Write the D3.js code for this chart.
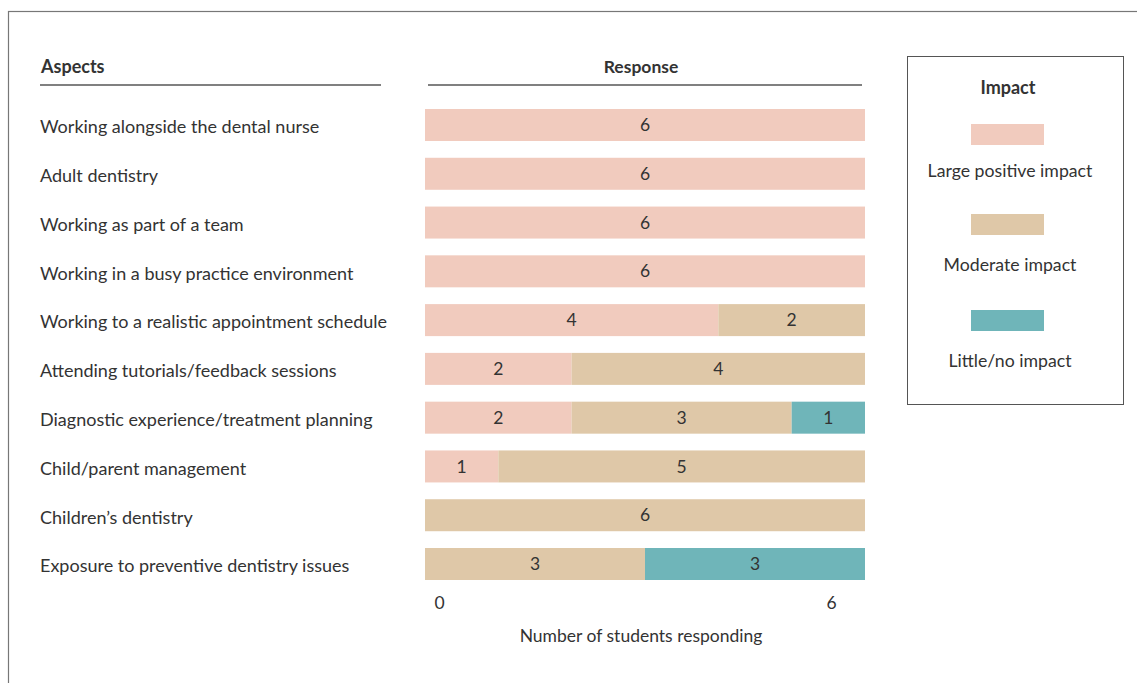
<!DOCTYPE html>
<html><head><meta charset="utf-8">
<script src="https://cdn.jsdelivr.net/npm/d3@7"></script>
<style>body{margin:0;background:#fff}svg{display:block}text{font-family:Lato,"Open Sans",sans-serif;fill:#333}</style>
</head><body><svg id="c" width="1137" height="683"></svg>
<script>
const aspects = ["Working alongside the dental nurse","Adult dentistry","Working as part of a team","Working in a busy practice environment","Working to a realistic appointment schedule","Attending tutorials/feedback sessions","Diagnostic experience/treatment planning","Child/parent management","Children\u2019s dentistry","Exposure to preventive dentistry issues"];
const largePositive = [6,6,6,6,4,2,2,1,0,0];
const moderate      = [0,0,0,0,2,4,3,5,6,3];
const littleNone    = [0,0,0,0,0,0,1,0,0,3];
const seriesNames = ["Large positive impact","Moderate impact","Little/no impact"];
const seriesColors = ["#F1CBBE","#DFC8A8","#6FB5B9"];
const axisTicks = [0,6];

const svg = d3.select("#c");
// frame
svg.append("rect").attr("x",8.5).attr("y",11.5).attr("width",1140).attr("height",700)
  .attr("fill","none").attr("stroke","#777").attr("stroke-width",1.2);

const x = d3.scaleLinear().domain([0,6]).range([425,865]);
const y = d3.scaleBand().domain(aspects).range([109 - 48.78*0.172, 580 + 48.78*0.172]).paddingInner(0.344).paddingOuter(0.172);

const rows = aspects.map((a,i)=>({aspect:a, large:largePositive[i], moderate:moderate[i], little:littleNone[i]}));
const stack = d3.stack().keys(["large","moderate","little"])(rows);

// headers
svg.append("text").attr("x",41).attr("y",73).attr("font-size",18).attr("font-weight","bold").text("Aspects");
svg.append("line").attr("x1",40).attr("x2",381).attr("y1",85).attr("y2",85).attr("stroke","#808080").attr("stroke-width",2);
svg.append("text").attr("x",641).attr("y",73).attr("text-anchor","middle").attr("font-size",17.5).attr("font-weight","bold").text("Response");
svg.append("line").attr("x1",428).attr("x2",862).attr("y1",85).attr("y2",85).attr("stroke","#808080").attr("stroke-width",2);

// category labels
svg.append("g").selectAll("text").data(aspects).join("text")
  .attr("x",40).attr("y",d=>y(d)+y.bandwidth()/2+2).attr("dy","0.35em")
  .attr("font-size",18).text(d=>d);

// bars
const g = svg.append("g");
stack.forEach((s,k)=>{
  const sg = g.append("g");
  sg.selectAll("rect").data(s.filter(d=>d[1]>d[0])).join("rect")
    .attr("x",d=>x(d[0])).attr("width",d=>x(d[1])-x(d[0]))
    .attr("y",d=>y(d.data.aspect)).attr("height",y.bandwidth())
    .attr("fill",seriesColors[k]);
  sg.selectAll("text").data(s.filter(d=>d[1]>d[0])).join("text")
    .attr("x",d=>(x(d[0])+x(d[1]))/2).attr("y",d=>y(d.data.aspect)+y.bandwidth()/2).attr("dy","0.35em")
    .attr("text-anchor","middle").attr("font-size",17.5).text(d=>d[1]-d[0]);
});

// axis tick labels
const xt = d3.scaleLinear().domain([0,6]).range([439,831]);
const ax = svg.append("g").attr("transform","translate(0,597)").call(d3.axisBottom(xt).tickValues(axisTicks).tickFormat(d3.format("d")).tickSize(0).tickPadding(0));
ax.select(".domain").remove();
ax.selectAll("text").attr("font-size",17.5).attr("font-family","Lato,sans-serif").attr("fill","#333");
svg.append("text").attr("x",641).attr("y",642).attr("text-anchor","middle").attr("font-size",17.5).text("Number of students responding");

// legend
svg.append("rect").attr("x",907.5).attr("y",56.5).attr("width",216).attr("height",348).attr("fill","none").attr("stroke","#555").attr("stroke-width",1);
svg.append("text").attr("x",1008).attr("y",94).attr("text-anchor","middle").attr("font-size",18).attr("font-weight","bold").text("Impact");
const ly = [124,214,310];
const lty = [171,265,361];
const lg = svg.append("g").selectAll("g").data(seriesNames).join("g");
lg.append("rect").attr("x",971).attr("y",(d,i)=>ly[i]).attr("width",73).attr("height",21).attr("fill",(d,i)=>seriesColors[i]);
lg.append("text").attr("x",1010).attr("y",(d,i)=>lty[i]).attr("dy","0.35em").attr("text-anchor","middle").attr("font-size",17.7).text(d=>d);
</script></body></html>
